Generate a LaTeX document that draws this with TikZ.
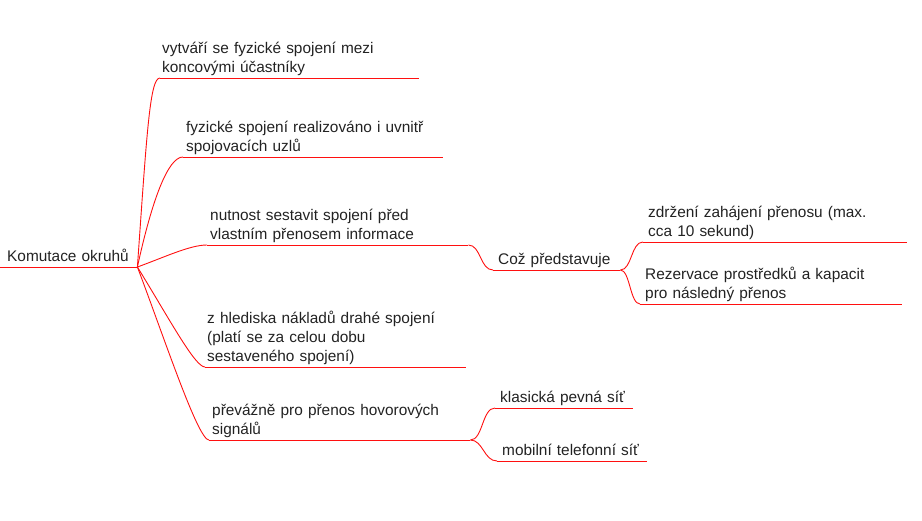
\documentclass[tikz,border=0pt]{standalone}
\usepackage{fontspec}
\setmainfont{Liberation Sans}
\definecolor{linered}{HTML}{FF1010}
\definecolor{txt}{HTML}{222222}
\tikzset{
  x=1pt, y=-1pt,
  topic/.style={anchor=south west, inner ysep=0pt, inner xsep=#1, align=left,
    text=txt, font=\fontsize{15.4}{19}\selectfont},
  topic/.default=4pt,
  uline/.style={draw=linered, line width=0.9pt},
  branch/.style={draw=linered, line width=0.9pt},
}
\newcommand{\tw}[2]{\dimexpr #1pt - 2\dimexpr #2pt\relax\relax}
\begin{document}
\begin{tikzpicture}
\useasboundingbox (0,0) rectangle (922,520);

% root
\node[topic=7pt, text width=123pt] (root) at (0,267) {\mbox{Komutace okruhů}\strut};
% level 1
\node[topic=2pt, text width=255pt] (n1) at (160,78) {\mbox{vytváří se fyzické spojení mezi}\\\mbox{koncovými účastníky}\strut};
\node[topic=3pt, text width=254pt] (n2) at (183,157) {\mbox{fyzické spojení realizováno i uvnitř}\\\mbox{spojovacích uzlů}\strut};
\node[topic=3pt, text width=255pt] (n3) at (207,245) {\mbox{nutnost sestavit spojení před}\\\mbox{vlastním přenosem informace}\strut};
\node[topic=2pt, text width=257pt] (n4) at (205,367) {\mbox{z hlediska nákladů drahé spojení}\\\mbox{(platí se za celou dobu}\\\mbox{sestaveného spojení)}\strut};
\node[topic=3pt, text width=255pt] (n5) at (209,440) {\mbox{převážně pro přenos hovorových}\\\mbox{signálů}\strut};
% level 2
\node[topic=5pt, text width=117pt] (cp) at (493,270) {\mbox{Což představuje}\strut};
\node[topic=5pt, text width=128pt] (kl) at (495,408) {\mbox{klasická pevná síť}\strut};
\node[topic=5pt, text width=140pt] (mo) at (497,461) {\mbox{mobilní telefonní síť}\strut};
% level 3
\node[topic=5pt, text width=254pt] (zd) at (643,242) {\mbox{zdržení zahájení přenosu (max.}\\\mbox{cca 10 sekund)}\strut};
\node[topic=5pt, text width=252pt] (rz) at (640,304) {\mbox{Rezervace prostředků a kapacit}\\\mbox{pro následný přenos}\strut};

% underlines
\foreach \n in {root,n1,n2,n3,n4,n5,cp,kl,mo,zd,rz}
  \path[uline] (\n.south west) -- (\n.south east);

% branches from root
\path[branch] (root.south east) .. controls (147,130) and (150,78) .. (n1.south west);
\path[branch] (root.south east) .. controls (152,200) and (168,157) .. (n2.south west);
\path[branch] (root.south east) .. controls (165,257) and (190,245) .. (n3.south west);
\path[branch] (root.south east) .. controls (170,320) and (195,367) .. (n4.south west);
\path[branch] (root.south east) .. controls (165,340) and (198,440) .. (n5.south west);
% sub branches
\path[branch] (n3.south east) .. controls (481,245) and (480,270) .. (cp.south west);
\path[branch] (cp.south east) .. controls (632,270) and (631,242) .. (zd.south west);
\path[branch] (cp.south east) .. controls (630,270) and (630,304) .. (rz.south west);
\path[branch] (n5.south east) .. controls (483,440) and (482,408) .. (kl.south west);
\path[branch] (n5.south east) .. controls (483,440) and (484,461) .. (mo.south west);
\end{tikzpicture}
\end{document}
